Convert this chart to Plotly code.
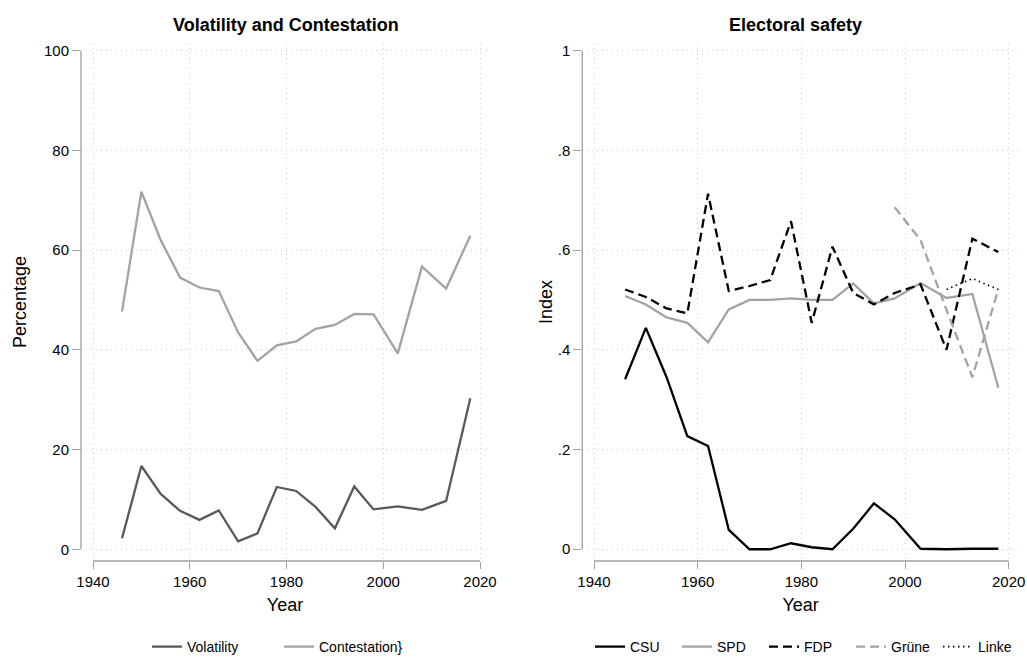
import plotly.graph_objects as go

# ---------------- data ----------------
years = [1946, 1950, 1954, 1958, 1962, 1966, 1970, 1974, 1978, 1982,
         1986, 1990, 1994, 1998, 2003, 2008, 2013, 2018]

volatility = [2.2, 16.7, 11.1, 7.7, 5.9, 7.8, 1.6, 3.2, 12.5, 11.7,
              8.5, 4.2, 12.6, 8.0, 8.6, 7.9, 9.7, 30.3]
contestation = [47.7, 71.7, 62.0, 54.5, 52.5, 51.8, 43.5, 37.8, 40.9, 41.7,
                44.2, 45.0, 47.2, 47.1, 39.3, 56.7, 52.3, 62.9]

csu = [0.341, 0.444, 0.345, 0.227, 0.207, 0.039, 0.0, 0.0, 0.012, 0.004,
       0.0, 0.041, 0.092, 0.060, 0.001, 0.0, 0.001, 0.001]
spd = [0.508, 0.491, 0.465, 0.454, 0.415, 0.481, 0.500, 0.500, 0.503, 0.500,
       0.500, 0.533, 0.493, 0.503, 0.534, 0.504, 0.512, 0.324]
fdp = [0.521, 0.506, 0.483, 0.473, 0.713, 0.518, 0.528, 0.540, 0.658, 0.454,
       0.607, 0.514, 0.491, 0.514, 0.531, 0.400, 0.623, 0.596]

gruene_years = [1998, 2003, 2008, 2013, 2018]
gruene = [0.686, 0.620, 0.480, 0.345, 0.522]

linke_years = [2008, 2013, 2018]
linke = [0.521, 0.543, 0.521]

x_ticks = [1940, 1960, 1980, 2000, 2020]
left_y_ticks = [0, 20, 40, 60, 80, 100]
right_y_ticks = [0, 0.2, 0.4, 0.6, 0.8, 1]
right_y_labels = ["0", ".2", ".4", ".6", ".8", "1"]

# ---------------- styling ----------------
W, H = 1027, 657
FONT = "Liberation Sans, Arial, sans-serif"
AXIS_GRAY = "#a0a0a0"
GRID_GRAY = "#cfcfcf"
DARK = "#595959"
LIGHT = "#a3a3a3"
LW = 2.3

fig = go.Figure()

fig.add_trace(go.Scatter(x=years, y=volatility, mode="lines", name="Volatility",
                         line=dict(color=DARK, width=LW), xaxis="x", yaxis="y",
                         legend="legend"))
fig.add_trace(go.Scatter(x=years, y=contestation, mode="lines", name="Contestation}",
                         line=dict(color=LIGHT, width=LW), xaxis="x", yaxis="y",
                         legend="legend"))

fig.add_trace(go.Scatter(x=years, y=csu, mode="lines", name="CSU",
                         line=dict(color="black", width=LW), xaxis="x2", yaxis="y2",
                         legend="legend2"))
fig.add_trace(go.Scatter(x=years, y=spd, mode="lines", name="SPD",
                         line=dict(color=LIGHT, width=LW), xaxis="x2", yaxis="y2",
                         legend="legend2"))
fig.add_trace(go.Scatter(x=years, y=fdp, mode="lines", name="FDP",
                         line=dict(color="black", width=LW, dash="9px,5px"),
                         xaxis="x2", yaxis="y2", legend="legend2"))
fig.add_trace(go.Scatter(x=gruene_years, y=gruene, mode="lines", name="Grüne",
                         line=dict(color=LIGHT, width=LW, dash="9px,5px"),
                         xaxis="x2", yaxis="y2", legend="legend2"))
fig.add_trace(go.Scatter(x=linke_years, y=linke, mode="lines", name="Linke",
                         line=dict(color="black", width=1.6, dash="1.5px,3.5px"),
                         xaxis="x2", yaxis="y2", legend="legend2"))

ybot = 1 - 561 / H
ytop = 1 - 43 / H

common_x = dict(
    tickmode="array", tickvals=x_ticks, ticktext=[str(t) for t in x_ticks],
    ticks="outside", ticklen=7, tickwidth=1.3, tickcolor=AXIS_GRAY,
    showline=False, zeroline=False, automargin=False,
    showgrid=True, gridcolor=GRID_GRAY, gridwidth=1, griddash="1px,4px",
    tickfont=dict(family=FONT, size=15, color="black"),
    title=dict(text="Year", font=dict(family=FONT, size=18, color="black"), standoff=9),
)
common_y = dict(
    ticks="outside", ticklen=8, tickwidth=1.3, tickcolor=AXIS_GRAY,
    showline=False, zeroline=False, automargin=False,
    showgrid=True, gridcolor=GRID_GRAY, gridwidth=1, griddash="1px,4px",
    tickfont=dict(family=FONT, size=15, color="black"),
    domain=[ybot, ytop],
)

fig.update_layout(
    width=W, height=H,
    margin=dict(l=0, r=0, t=0, b=0, autoexpand=False),
    paper_bgcolor="white", plot_bgcolor="white",
    font=dict(family=FONT, size=14, color="black"),
    xaxis=dict(common_x, domain=[81 / W, 489 / W], range=[1937.52, 2021.86], anchor="y"),
    yaxis=dict(common_y, range=[-2.35, 101.54], anchor="x",
               tickmode="array", tickvals=left_y_ticks,
               ticktext=[str(t) for t in left_y_ticks],
               title=dict(text="Percentage", font=dict(family=FONT, size=18, color="black"),
                          standoff=12)),
    xaxis2=dict(common_x, domain=[582.3 / W, 1019 / W], range=[1937.74, 2021.99], anchor="y2"),
    yaxis2=dict(common_y, range=[-0.0236, 1.0154], anchor="x2",
                tickmode="array", tickvals=right_y_ticks, ticktext=right_y_labels,
                title=dict(text="Index", font=dict(family=FONT, size=18, color="black"),
                           standoff=0)),
    legend=dict(orientation="h", x=147 / W, xanchor="left", y=1 - 647 / H, yanchor="middle",
                font=dict(family=FONT, size=14, color="black"), bgcolor="rgba(0,0,0,0)",
                entrywidth=87, entrywidthmode="pixels"),
    legend2=dict(orientation="h", x=590 / W, xanchor="left", y=1 - 647 / H, yanchor="middle",
                 font=dict(family=FONT, size=14, color="black"), bgcolor="rgba(0,0,0,0)",
                 entrywidth=42, entrywidthmode="pixels"),
    showlegend=True,
    annotations=[
        dict(text="<b>Volatility and Contestation</b>", x=285.5 / W, y=1 - 25 / H,
             xref="paper", yref="paper", showarrow=False, xanchor="center", yanchor="middle",
             font=dict(family=FONT, size=18, color="black")),
        dict(text="<b>Electoral safety</b>", x=795 / W, y=1 - 25 / H,
             xref="paper", yref="paper", showarrow=False, xanchor="center", yanchor="middle",
             font=dict(family=FONT, size=18, color="black")),
    ],
    shapes=[
        dict(type="line", xref="x", yref="y domain", x0=1940, x1=2020, y0=0, y1=0,
             line=dict(color=AXIS_GRAY, width=1.3)),
        dict(type="line", xref="x domain", yref="y", x0=0, x1=0, y0=0, y1=100,
             line=dict(color=AXIS_GRAY, width=1.3)),
        dict(type="line", xref="x2", yref="y2 domain", x0=1940, x1=2020, y0=0, y1=0,
             line=dict(color=AXIS_GRAY, width=1.3)),
        dict(type="line", xref="x2 domain", yref="y2", x0=0, x1=0, y0=0, y1=1,
             line=dict(color=AXIS_GRAY, width=1.3)),
    ],
)

fig.write_html("out.html",
               config={"displayModeBar": False},
               post_script="document.body.style.margin='0px';document.body.style.overflow='hidden';")
